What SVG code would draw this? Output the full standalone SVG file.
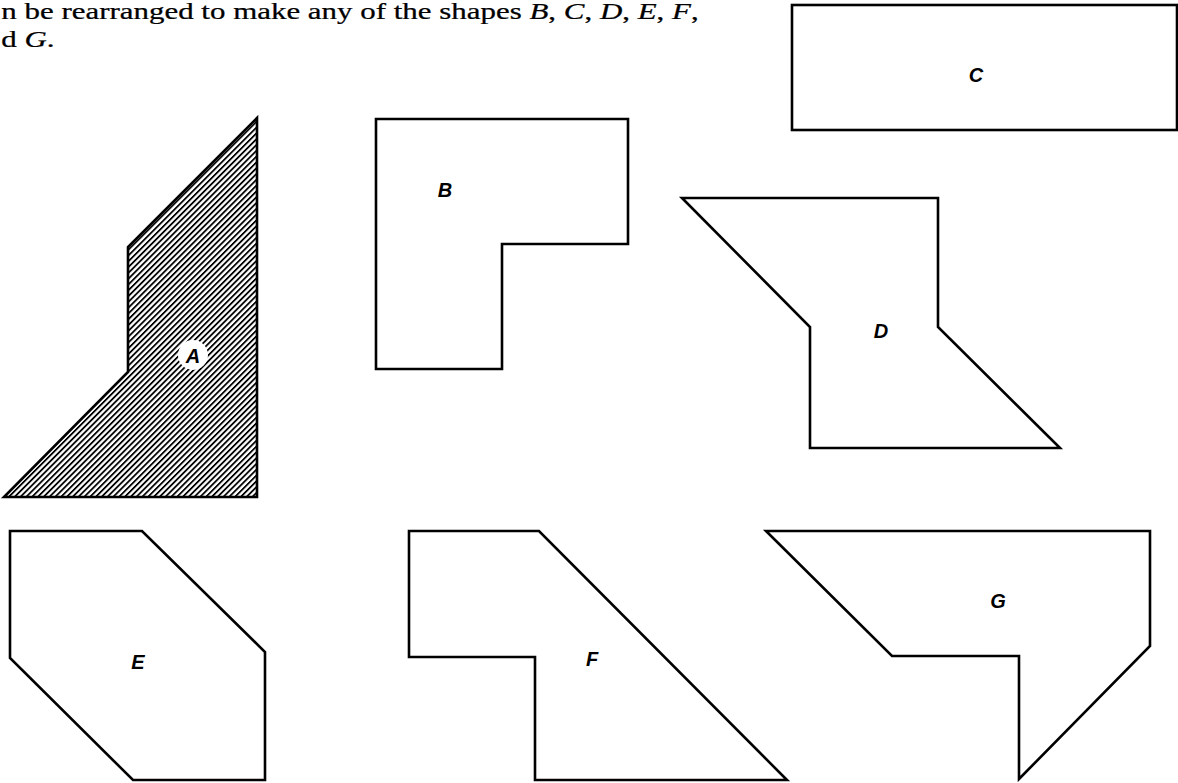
<svg xmlns="http://www.w3.org/2000/svg" width="1178" height="783" viewBox="0 0 1178 783">
<style>
.shape{fill:#fff;stroke:#000;stroke-width:2.6;stroke-linejoin:miter}
.lbl{font-family:"Liberation Sans",Arial,sans-serif;font-weight:bold;font-style:italic;font-size:20px;text-anchor:middle;fill:#000}
.cap{font-family:"Liberation Serif","Times New Roman",serif;font-size:23px;fill:#000;stroke:#000;stroke-width:0.25}
.it{font-style:italic}
</style>
<defs>
<pattern id="hatch" patternUnits="userSpaceOnUse" width="4.1" height="20" patternTransform="rotate(45)">
<rect x="0" y="0" width="1.8" height="20" fill="#000"/>
</pattern>
</defs>
<rect width="1178" height="783" fill="#fff"/>
<g id="caption" transform="scale(1.345,1)">
<text class="cap" x="1" y="19">n be rearranged to make any of the shapes <tspan class="it">B</tspan>, <tspan class="it">C</tspan>, <tspan class="it">D</tspan>, <tspan class="it">E</tspan>, <tspan class="it">F</tspan>,</text>
<text class="cap" x="1" y="47">d <tspan class="it">G</tspan>.</text>
</g>
<g id="A">
<polygon points="257,118 128,247 128,372 4,497 257,497" fill="url(#hatch)" stroke="#000" stroke-width="2.6"/>
<ellipse cx="193" cy="355" rx="15" ry="15" fill="#fff"/>
<text class="lbl" x="193" y="363">A</text>
</g>
<g id="B">
<polygon class="shape" points="376,119 628,119 628,244 502,244 502,369 376,369"/>
<text class="lbl" x="445" y="197">B</text>
</g>
<g id="C">
<rect class="shape" x="792" y="5" width="385" height="125"/>
<text class="lbl" x="976" y="82">C</text>
</g>
<g id="D">
<polygon class="shape" points="682,198 938,198 938,327 1060,448 810,448 810,327"/>
<text class="lbl" x="881" y="338">D</text>
</g>
<g id="E">
<polygon class="shape" points="10,531 142,531 265,652 265,780 133,780 10,658"/>
<text class="lbl" x="138" y="669">E</text>
</g>
<g id="F">
<polygon class="shape" points="409,531 539,531 787,780 535,780 535,657 409,657"/>
<text class="lbl" x="592" y="666">F</text>
</g>
<g id="G">
<polygon class="shape" points="766,531 1150,531 1150,646 1019,779 1019,656 892,656"/>
<text class="lbl" x="998" y="608">G</text>
</g>
<g id="connectors"/>
</svg>
